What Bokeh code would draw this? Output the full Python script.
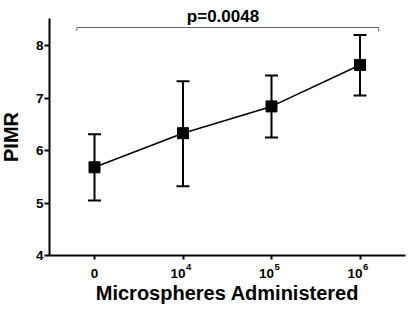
from bokeh.plotting import figure
from bokeh.models import Range1d, FixedTicker, Whisker, TeeHead, ColumnDataSource
from bokeh.core.properties import value
from bokeh.embed import file_html
from bokeh.resources import INLINE

# Data
positions = [0, 1, 2, 3]
tick_base = ["0", "10", "10", "10"]
tick_exp = ["", "4", "5", "6"]
pimr_mean = [5.68, 6.33, 6.84, 7.63]
pimr_upper = [6.31, 7.32, 7.43, 8.20]
pimr_lower = [5.05, 5.32, 6.25, 7.05]
y_ticks = [4, 5, 6, 7, 8]
p_label = "p=0.0048"
bracket_x = [-0.2, -0.2, 3.21, 3.21]
bracket_y = [8.276, 8.343, 8.343, 8.276]

FONT = "Liberation Sans"
W, H = 409, 309

# pixel geometry of the frame (canvas-wide frame, axes drawn at fixed locations)
X0_PX, DX_PX = 94.0, 88.5      # pixel of x=0, pixels per category
Y4_PX, DY_PX = 255.0, 52.5     # pixel of y=4, pixels per unit


def xd(px):
    return (px - X0_PX) / DX_PX


def yd(py):
    return 4 + (Y4_PX - py) / DY_PX


p = figure(width=W, height=H, output_backend="svg", toolbar_location=None,
           x_range=Range1d(xd(0), xd(W)), y_range=Range1d(yd(H), yd(0)),
           min_border=0)
p.outline_line_color = None
p.grid.grid_line_color = None
p.background_fill_color = "white"
p.border_fill_color = "white"

src = ColumnDataSource(dict(x=positions, y=pimr_mean, upper=pimr_upper, lower=pimr_lower))

w = Whisker(base="x", upper="upper", lower="lower", source=src,
            line_color="black", line_width=2,
            upper_head=TeeHead(size=13, line_color="black", line_width=2),
            lower_head=TeeHead(size=13, line_color="black", line_width=2))
p.add_layout(w)

p.line("x", "y", source=src, line_color="black", line_width=1.6)
p.scatter("x", "y", source=src, marker="square", size=11, fill_color="black", line_color="black")

# significance bracket and p-value
p.line(bracket_x, bracket_y, line_color="#666666", line_width=1)
p.text(x=[xd(222.5)], y=[yd(16)], text=[p_label], text_align="center",
       text_baseline="alphabetic", text_font=value(FONT), text_font_size="17px",
       text_font_style="bold", text_color="black")

# x tick labels with superscript exponents
has_exp = [e != "" for e in tick_exp]
base_src = ColumnDataSource(dict(
    x=[xp + (xd(X0_PX + 2.5) if h else 0) for xp, h in zip(positions, has_exp)],
    y=[yd(272.5)] * len(positions),
    text=tick_base,
    align=["right" if h else "center" for h in has_exp]))
p.text(x="x", y="y", text="text", source=base_src, text_align="align",
       text_baseline="alphabetic", text_font=value(FONT), text_font_size="13.5px",
       text_font_style="bold", text_color="black")
exp_src = ColumnDataSource(dict(
    x=[xp + xd(X0_PX + 3.0) for xp, h in zip(positions, has_exp) if h],
    y=[yd(266.5)] * sum(has_exp),
    text=[e for e in tick_exp if e]))
p.text(x="x", y="y", text="text", source=exp_src, text_align="left",
       text_baseline="alphabetic", text_font=value(FONT), text_font_size="9.5px",
       text_font_style="bold", text_color="black")

# axes at fixed locations
p.xaxis.fixed_location = 4
p.xaxis.bounds = (xd(49), xd(405))
p.xaxis.ticker = FixedTicker(ticks=positions)
p.xaxis.major_label_overrides = {pos: "" for pos in positions}
p.yaxis.fixed_location = xd(49)
p.yaxis.bounds = (4, yd(18))
p.yaxis.ticker = FixedTicker(ticks=y_ticks)
for ax in (p.xaxis, p.yaxis):
    ax.axis_line_width = 2
    ax.axis_line_color = "black"
    ax.major_tick_line_width = 2
    ax.major_tick_in = 0
    ax.minor_tick_line_color = None
    ax.major_label_text_font = FONT
    ax.major_label_text_font_style = "bold"
    ax.major_label_text_font_size = "13.5px"
    ax.major_label_text_color = "black"
    ax.axis_label_text_font = FONT
    ax.axis_label_text_font_style = "bold"
    ax.axis_label_text_font_size = "20px"
    ax.axis_label_text_color = "black"
p.xaxis.major_tick_out = 4
p.yaxis.major_tick_out = 5

p.xaxis.axis_label = "Microspheres Administered"
p.yaxis.axis_label = "PIMR"
p.yaxis.major_label_standoff = 1
p.xaxis.axis_label_standoff = 22
p.yaxis.axis_label_standoff = 11

open("out.html", "w").write(file_html(p, INLINE))
